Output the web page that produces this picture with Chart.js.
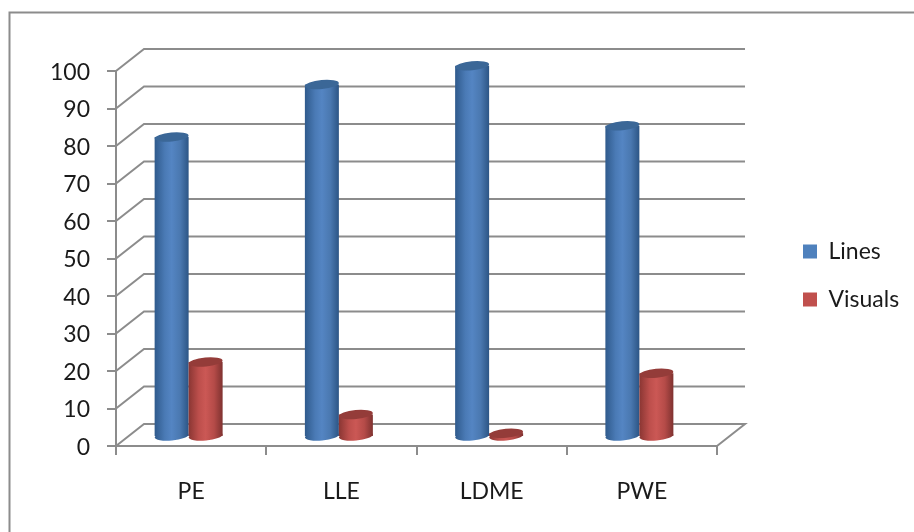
<!DOCTYPE html>
<html>
<head>
<meta charset="utf-8">
<title>Lines and visuals</title>
<script src="https://cdn.jsdelivr.net/npm/chart.js@4"></script>
<style>
    html, body { margin: 0; padding: 0; background: #fff; }
    #wrap { width: 914px; height: 532px; }
</style>
</head>
<body>
<div id="wrap"><canvas id="chart" width="914" height="532"></canvas></div>
<script>
const categories = ['PE', 'LLE', 'LDME', 'PWE'];
const linesValues = [80, 94, 99, 83];
const visualsValues = [20, 6, 1, 17];
const yTicks = [0, 10, 20, 30, 40, 50, 60, 70, 80, 90, 100];

const LINE_GREY = '#8c8c8c';
const TEXT_COLOR = '#1a1a1a';
const FONT = { family: 'Lato', size: 23 };

// side shading of each cylinder: dark edge, light middle, dark edge
const shades = {
    Lines: ['#2f5a8c', '#4a7ab5', '#5485c3', '#4a78b0', '#2c5585'],
    Visuals: ['#8a3633', '#bd4f4c', '#cb5855', '#b54b48', '#7f3230']
};
const capColors = { Lines: '#3b6797', Visuals: '#943c39' };

// the chart is a flat bar chart, this adds the fake 3d room behind it
const roomPlugin = {
    id: 'room',
    beforeDraw(chart) {
        const { ctx, chartArea, scales } = chart;
        const dx = 28, dy = -22;

        // outer frame
        ctx.save();
        ctx.strokeStyle = '#8c8c8c';
        ctx.lineWidth = 2;
        ctx.beginPath();
        ctx.moveTo(9.5, 532);
        ctx.lineTo(9.5, 12.5);
        ctx.lineTo(914, 12.5);
        ctx.stroke();

        // gridlines on the back wall and the side wall
        ctx.strokeStyle = LINE_GREY;
        ctx.lineWidth = 2;
        yTicks.forEach((v) => {
            const y = scales.y.getPixelForValue(v);
            ctx.beginPath();
            ctx.moveTo(chartArea.left, y);
            ctx.lineTo(chartArea.left + dx, y + dy);
            ctx.lineTo(chartArea.right + dx, y + dy);
            if (v === 0) ctx.lineTo(chartArea.right, y);
            ctx.stroke();
        });
        ctx.restore();
    },
    beforeDatasetsDraw(chart) {
        const { ctx } = chart;
        // the bars stand in the middle of the room depth
        const shiftX = -2.5, shiftY = -9;
        const tilt = -0.09, ry = 4.5;

        // Lines first so that Visuals overlaps it
        chart.data.datasets.forEach((ds, i) => {
            chart.getDatasetMeta(i).data.forEach((bar) => {
                const left = bar.x - bar.width / 2;
                const rx = bar.width / 2;
                const g = ctx.createLinearGradient(left, 0, left + bar.width, 0);
                shades[ds.label].forEach((c, k) => g.addColorStop([0, 0.3, 0.5, 0.75, 1][k], c));

                ctx.save();
                ctx.translate(shiftX, shiftY);
                bar.options = Object.assign({}, bar.options, { backgroundColor: g, borderWidth: 0 });
                bar.draw(ctx);

                // rounded foot of the cylinder
                ctx.fillStyle = g;
                ctx.beginPath();
                ctx.ellipse(bar.x, bar.base, rx, ry, tilt, 0, Math.PI * 2);
                ctx.fill();

                // top cap
                ctx.fillStyle = capColors[ds.label];
                ctx.beginPath();
                ctx.ellipse(bar.x, bar.y, rx, ry, tilt, 0, Math.PI * 2);
                ctx.fill();
                ctx.restore();
            });
        });
        return false;
    },
    afterLayout(chart) {
        // the legend sits in the free space right of the room
        const legend = chart.legend;
        legend.left = 778;
        legend.right = 914;
        legend.top = 215;
        legend.bottom = 420;
    }
};

new Chart(document.getElementById('chart').getContext('2d'), {
    type: 'bar',
    plugins: [roomPlugin],
    data: {
        labels: categories,
        datasets: [
            { label: 'Lines', data: linesValues, backgroundColor: '#4f81bd' },
            { label: 'Visuals', data: visualsValues, backgroundColor: '#c0504d' }
        ]
    },
    options: {
        responsive: false,
        animation: false,
        layout: { padding: { top: 71, right: 197, left: 0, bottom: 0 } },
        datasets: { bar: { barPercentage: 1, categoryPercentage: 0.4525 } },
        plugins: {
            title: { display: false },
            tooltip: { enabled: false },
            legend: {
                position: 'chartArea',
                align: 'start',
                labels: {
                    boxWidth: 14,
                    boxHeight: 14,
                    padding: 25,
                    color: TEXT_COLOR,
                    font: FONT
                }
            }
        },
        scales: {
            x: {
                afterFit(scale) { scale.height = 86; },
                grid: { drawOnChartArea: false, drawTicks: true, tickLength: 9, color: LINE_GREY, lineWidth: 2 },
                border: { color: LINE_GREY, width: 2 },
                ticks: { color: TEXT_COLOR, font: FONT, padding: 23, maxRotation: 0 }
            },
            y: {
                min: 0,
                max: 100,
                afterFit(scale) { scale.width = 116; },
                afterBuildTicks(scale) { scale.ticks = yTicks.map((value) => ({ value })); },
                grid: { drawOnChartArea: false, drawTicks: true, tickLength: 9, color: LINE_GREY, lineWidth: 2 },
                border: { color: LINE_GREY, width: 2 },
                ticks: { color: TEXT_COLOR, font: FONT, padding: 17, labelOffset: 1.5 }
            }
        }
    }
});
</script>
</body>
</html>
